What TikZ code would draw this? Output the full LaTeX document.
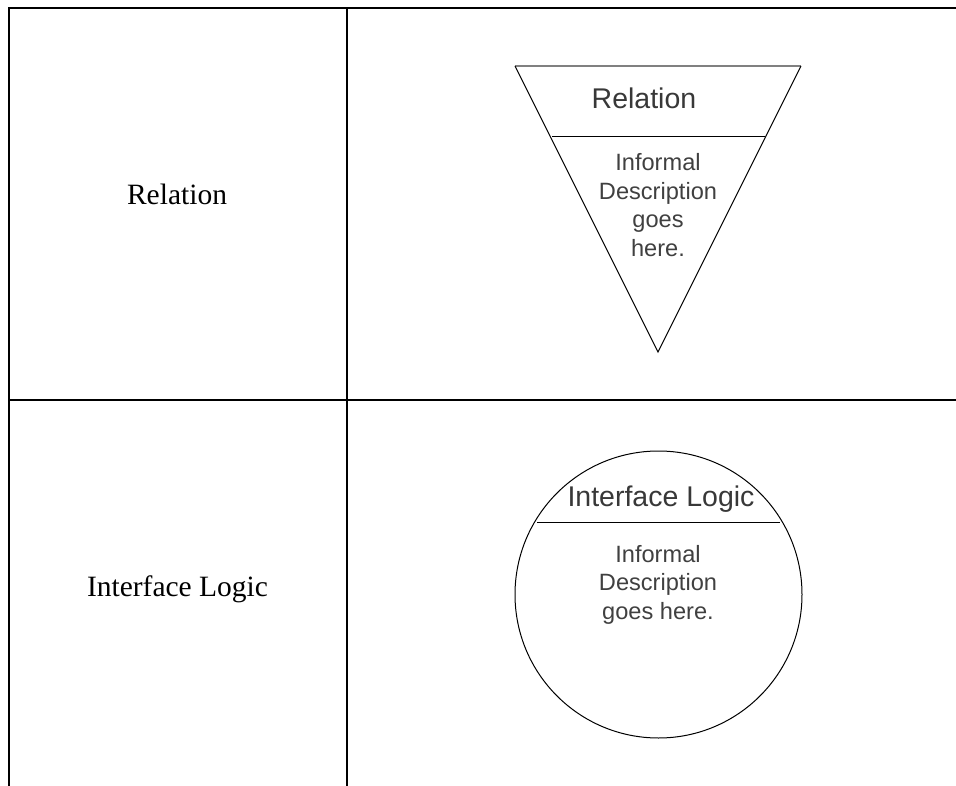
\documentclass[tikz,border=0pt]{standalone}
\usepackage{fontspec}
\setmainfont{Liberation Serif}
\setsansfont{Liberation Sans}
\begin{document}
\begin{tikzpicture}[x=1pt,y=-1pt,
  grid/.style={line width=2pt,black},
  shapeline/.style={line width=1pt,black},
  lefttext/.style={font=\fontsize{29.5}{34}\selectfont,anchor=base,inner sep=0pt},
  titletext/.style={font=\sffamily\fontsize{28.5}{33}\selectfont,text=black!78,anchor=base,inner sep=0pt},
  desctext/.style={font=\sffamily\fontsize{23.6}{28.5}\selectfont,text=black!75,anchor=base,inner sep=0pt,align=center}]
\useasboundingbox (0,0) rectangle (956,786);
% table grid
\coordinate (tl) at (9,7.7);
\coordinate (tr) at (956,7.7);
\coordinate (bl) at (9,786);
\coordinate (mt) at (347,7.7);
\coordinate (mb) at (347,786);
\coordinate (hl) at (9,400);
\coordinate (hr) at (956,400);
\draw[grid] (bl) -- (tl) -- (tr);
\draw[grid] (mt) -- (mb);
\draw[grid] (hl) -- (hr);
% left labels
\node[lefttext] (lrel) at (177,205) {Relation};
\node[lefttext] (lint) at (177.5,596) {Interface Logic};
% triangle
\coordinate (ta) at (515,66);
\coordinate (tb) at (801,66);
\coordinate (tc) at (658,352);
\coordinate (da) at (552,137);
\coordinate (db) at (765,137);
\draw[line width=1.2pt,black!50] (ta) -- (tb);
\draw[shapeline] (tb) -- (tc) -- (ta);
\draw[shapeline] (da) -- (db);
\node[titletext] (trel) at (644,109) {Relation};
\node[desctext] (tdesc) at (658,256.5) {Informal\\Description\\goes\\here.};
% circle
\node[circle,draw,line width=1pt,minimum size=287pt,inner sep=0pt] (circ) at (658.5,594.5) {};
\coordinate (ca) at (537,522);
\coordinate (cb) at (780,522);
\draw[shapeline] (ca) -- (cb);
\node[titletext] (cint) at (661,506) {Interface Logic};
\node[desctext] (cdesc) at (658,619) {Informal\\Description\\goes here.};
\end{tikzpicture}
\end{document}
